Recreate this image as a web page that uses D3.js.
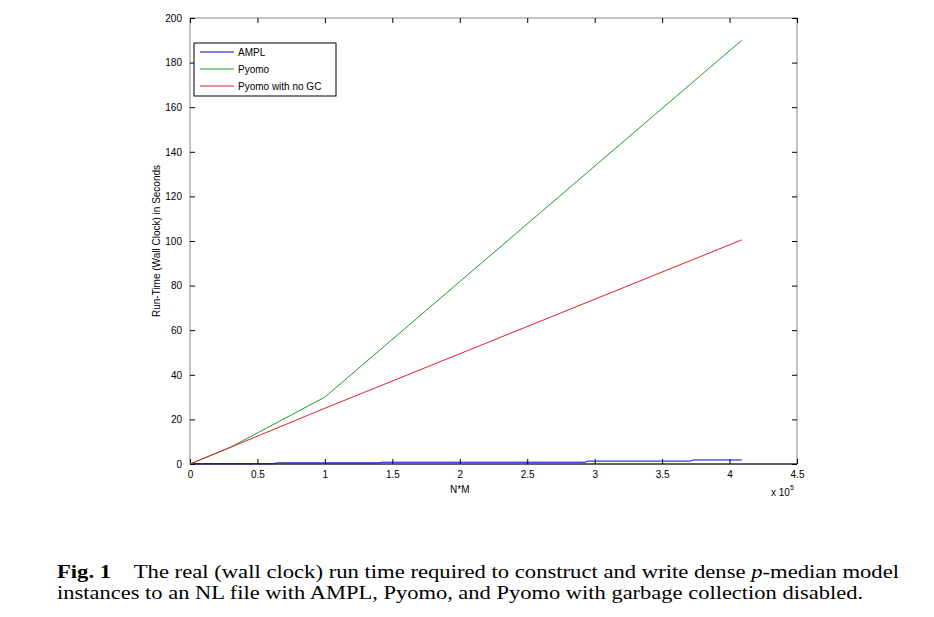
<!DOCTYPE html>
<html>
<head>
<meta charset="utf-8">
<script src="https://cdn.jsdelivr.net/npm/d3@7"></script>
<style>
body { margin: 0; background: #fff; }
.tick text { font-family: "Liberation Sans", Arial, sans-serif; font-size: 10px; }
</style>
</head>
<body>
<svg id="chart" width="934" height="617"></svg>
<script>
// values in units of 1e5 for N*M
var ampl = [[0, 0.1], [0.62, 0.1], [0.64, 0.5], [1.4, 0.5], [1.42, 0.8], [2.93, 0.8],
            [2.95, 1.3], [3.71, 1.3], [3.73, 1.8], [4.09, 1.8]];
var pyomo = [[0, 0], [0.3, 7.5], [1.0, 30], [4.09, 190]];
var pyomoNoGC = [[0, 0], [1.0, 25], [4.09, 100.5]];
var seriesNames = ["AMPL", "Pyomo", "Pyomo with no GC"];
var seriesColors = ["#0000cc", "#1f9a2a", "#e0202a"];
var xTicks = [0, 0.5, 1, 1.5, 2, 2.5, 3, 3.5, 4, 4.5];
var yTicks = [0, 20, 40, 60, 80, 100, 120, 140, 160, 180, 200];

var margin = {top: 18, left: 190, width: 607, height: 446};

var svg = d3.select("#chart");

var x = d3.scaleLinear().domain([0, 4.5]).range([0, margin.width]);
var y = d3.scaleLinear().domain([0, 200]).range([margin.height, 0]);

var g = svg.append("g")
    .attr("transform", "translate(" + margin.left + "," + margin.top + ")");

// box
g.append("rect")
    .attr("width", margin.width)
    .attr("height", margin.height)
    .attr("fill", "#fff")
    .attr("stroke", "#888")
    .attr("stroke-width", 1);

function styleAxis(sel, hideText) {
    sel.select(".domain").remove();
    sel.selectAll(".tick line").attr("stroke", "#000");
    if (hideText) sel.selectAll(".tick text").remove();
}

g.append("g")
    .attr("transform", "translate(0," + margin.height + ")")
    .call(d3.axisBottom(x).tickValues(xTicks).tickSize(-5).tickPadding(7).tickFormat(d3.format("")))
    .call(function(s) { styleAxis(s, false); });

g.append("g")
    .call(d3.axisTop(x).tickValues(xTicks).tickSize(-5))
    .call(function(s) { styleAxis(s, true); });

g.append("g")
    .call(d3.axisLeft(y).tickValues(yTicks).tickSize(-5).tickPadding(8))
    .call(function(s) { styleAxis(s, false); });

g.append("g")
    .attr("transform", "translate(" + margin.width + ",0)")
    .call(d3.axisRight(y).tickValues(yTicks).tickSize(-5))
    .call(function(s) { styleAxis(s, true); });

g.selectAll(".tick text").attr("fill", "#000");

// bottom axis line darker
g.append("line")
    .attr("x1", 0).attr("x2", margin.width)
    .attr("y1", margin.height).attr("y2", margin.height)
    .attr("stroke", "#000");

var line = d3.line()
    .x(function(d) { return x(d[0]); })
    .y(function(d) { return y(d[1]); });

[ampl, pyomo, pyomoNoGC].forEach(function(data, i) {
    g.append("path")
        .datum(data)
        .attr("fill", "none")
        .attr("stroke", seriesColors[i])
        .attr("stroke-width", 1)
        .attr("d", line);
});

// legend
var legend = g.append("g").attr("transform", "translate(4,25)");
legend.append("rect")
    .attr("width", 142)
    .attr("height", 53)
    .attr("fill", "#fff")
    .attr("stroke", "#000");

seriesNames.forEach(function(name, i) {
    var ly = 9 + i * 17;
    legend.append("line")
        .attr("x1", 6).attr("x2", 40)
        .attr("y1", ly).attr("y2", ly)
        .attr("stroke", seriesColors[i]);
    legend.append("text")
        .attr("x", 44).attr("y", ly)
        .attr("dy", "0.35em")
        .attr("font-family", "Liberation Sans, Arial, sans-serif")
        .attr("font-size", 10)
        .text(name);
});

// axis labels
svg.append("text")
    .attr("x", margin.left + x(2.0))
    .attr("y", 493)
    .attr("text-anchor", "middle")
    .attr("font-family", "Liberation Sans, Arial, sans-serif")
    .attr("font-size", 10)
    .text("N*M");

svg.append("text")
    .attr("transform", "translate(160," + (margin.top + margin.height / 2) + ") rotate(-90)")
    .attr("text-anchor", "middle")
    .attr("font-family", "Liberation Sans, Arial, sans-serif")
    .attr("font-size", 10)
    .text("Run-Time (Wall Clock) in Seconds");

var mult = svg.append("text")
    .attr("x", 771)
    .attr("y", 496)
    .attr("font-family", "Liberation Sans, Arial, sans-serif")
    .attr("font-size", 10);
mult.append("tspan").text("x 10");
mult.append("tspan").attr("dy", -6).attr("font-size", 7).text("5");

// caption
var cap1 = svg.append("text")
    .attr("x", 57).attr("y", 578)
    .attr("font-family", "Liberation Serif, serif")
    .attr("font-size", 18)
    .attr("textLength", 842)
    .attr("lengthAdjust", "spacingAndGlyphs");
cap1.append("tspan").attr("font-weight", "bold").text("Fig. 1");
cap1.append("tspan").text("\u2003The real (wall clock) run time required to construct and write dense ");
cap1.append("tspan").attr("font-style", "italic").text("p");
cap1.append("tspan").text("-median model");

svg.append("text")
    .attr("x", 57).attr("y", 599)
    .attr("font-family", "Liberation Serif, serif")
    .attr("font-size", 18)
    .attr("textLength", 806)
    .attr("lengthAdjust", "spacingAndGlyphs")
    .text("instances to an NL file with AMPL, Pyomo, and Pyomo with garbage collection disabled.");
</script>
</body>
</html>
